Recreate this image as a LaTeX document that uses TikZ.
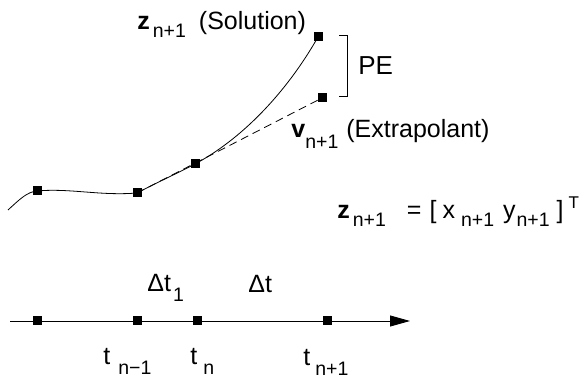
\documentclass[tikz,border=0pt]{standalone}
\usepackage{fontspec}
\setmainfont{Liberation Sans}
\usepackage{tikz}
\usetikzlibrary{arrows.meta}
\tikzstyle{sq}    = [rectangle, fill=black, minimum size=9pt, inner sep=0pt]
\tikzstyle{lbl}   = [anchor=base west, inner sep=0pt,
                     font=\fontsize{25}{29}\selectfont]
\tikzstyle{arrow} = [line width=0.9pt, -{Triangle[length=20pt, width=11pt]}]
\newcommand{\lowsub}[2][8pt]{\raisebox{-#1}{\fontsize{19.5}{20}\selectfont #2}}

\begin{document}
\begin{tikzpicture}[x=1pt, y=-1pt, line width=0.8pt]
  \useasboundingbox (0,0) rectangle (584,379);

  % Solution curve
  \coordinate (c0) at (8,210);
  \node[sq] (p1)  at (37,191)  {};
  \node[sq] (p2)  at (137,193) {};
  \node[sq] (p3)  at (195,164) {};
  \node[sq] (sol) at (318,37)  {};
  \node[sq] (ext) at (322,98)  {};
  \draw (c0) .. controls (20,199) and (27,192) .. (p1.center)
             .. controls (70,188) and (100,196) .. (p2.center)
             .. controls (160,181) and (180,172) .. (p3.center)
             .. controls (240,140) and (285,95) .. (sol.center);

  % Extrapolant
  \draw[dash pattern=on 8pt off 5pt] (p2.center) -- (ext.center);

  % PE bracket
  \draw (339,35) -- (347,35) -- (347,96) -- (339,96);
  \node[lbl, font=\fontsize{26}{30}\selectfont] (pe) at (358,75) {PE};

  % Labels
  \node[lbl] (sollbl) at (137,30)
        {\textbf{z}\kern3pt\lowsub{n+1}\kern13pt(Solution)};
  \node[lbl] (extlbl) at (291,138)
        {\textbf{v}\kern0pt\lowsub[11pt]{n+1}\kern8pt(Extrapolant)};
  \node[lbl] (eq) at (337,219)
        {\textbf{z}\kern3pt\lowsub{n+1}\kern21pt=\kern8pt[\kern6pt x\kern6pt\lowsub{n+1}\kern9pt y\kern1pt\lowsub{n+1}\kern7pt]\kern5pt\raisebox{10pt}{\fontsize{17}{17}\selectfont T}};

  % Time axis
  \coordinate (ax0) at (10,321);
  \coordinate (ax1) at (410,321);
  \draw[arrow] (ax0) -- (ax1);
  \node[sq] (t0) at (37,321)  {};
  \node[sq] (t1) at (137,321) {};
  \node[sq] (t2) at (197,321) {};
  \node[sq] (t3) at (327,321) {};

  % Step sizes
  \node[lbl] (dt1) at (147,292) {Δt\kern2pt\lowsub[10pt]{1}};
  \node[lbl] (dt)  at (248,293) {Δt};

  % Time labels
  \node[lbl] (tlm) at (103,365) {t\kern8pt\lowsub[10pt]{n−1}};
  \node[lbl] (tln) at (190,365) {t\kern6pt\lowsub[10pt]{n}};
  \node[lbl] (tlp) at (303,366) {t\kern5pt\lowsub[10pt]{n+1}};

\end{tikzpicture}
\end{document}
